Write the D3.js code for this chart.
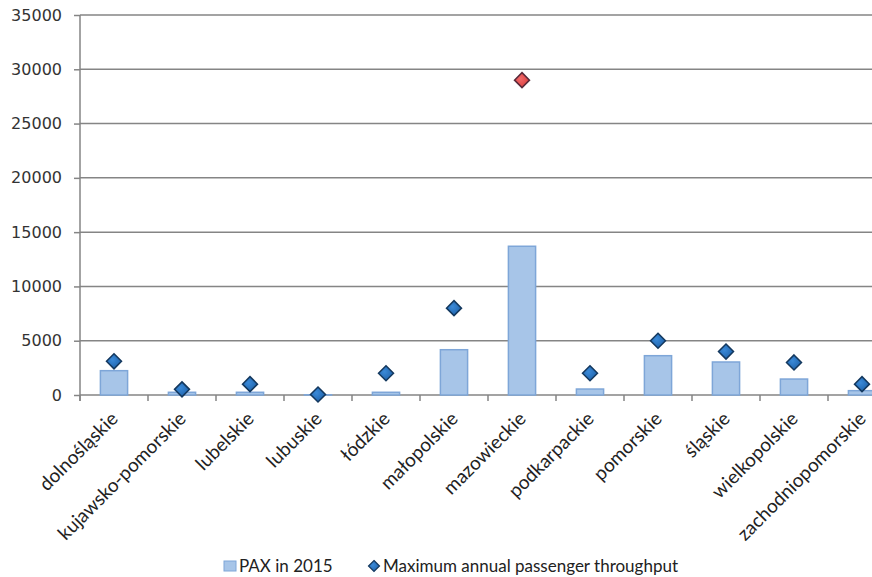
<!DOCTYPE html>
<html>
<head>
<meta charset="utf-8">
<script src="https://cdn.jsdelivr.net/npm/d3@7"></script>
<style>
  body { margin: 0; background: #fff; }
  svg { display: block; }
</style>
</head>
<body>
<div id="chart"></div>
<script>
/**
 * DATA
 * */
const regions = [
  "dolnośląskie", "kujawsko-pomorskie", "lubelskie", "lubuskie", "łódzkie",
  "małopolskie", "mazowieckie", "podkarpackie", "pomorskie", "śląskie",
  "wielkopolskie", "zachodniopomorskie"
];
const pax2015 = [2240, 250, 250, 20, 250, 4170, 13700, 550, 3620, 3040, 1470, 400];
const maxThroughput = [3100, 520, 1000, 50, 2000, 8000, 29000, 2000, 5000, 4000, 3000, 1000];
const yTicks = [0, 5000, 10000, 15000, 20000, 25000, 30000, 35000];
const seriesNames = ["PAX in 2015", "Maximum annual passenger throughput"];

/**
 * CONSTANTS
 * */
const width = 872,
  height = 577,
  margin = { top: 15, left: 80, bottom: 182 },
  plotRight = 896; // plot runs past the right edge, as in the original

const gridColor = "#858585";
const labelFont = "Lato, 'Open Sans', sans-serif";

const svg = d3.select("#chart")
  .append("svg")
  .attr("width", width)
  .attr("height", height);

const x = d3.scaleBand()
  .domain(regions)
  .range([margin.left, plotRight])
  .padding(0);

const y = d3.scaleLinear()
  .domain([0, 35000])
  .range([height - margin.bottom, margin.top]);

// gridlines
svg.append("g")
  .selectAll("line")
  .data(yTicks)
  .join("line")
  .attr("x1", margin.left)
  .attr("x2", plotRight)
  .attr("y1", d => y(d))
  .attr("y2", d => y(d))
  .attr("stroke", gridColor)
  .attr("stroke-width", 1.5);

// y axis
const yAxis = svg.append("g")
  .attr("transform", `translate(${margin.left},0)`)
  .call(d3.axisLeft(y).tickValues(yTicks).tickSize(6).tickPadding(12).tickFormat(d3.format("d")));
yAxis.select(".domain").attr("stroke", gridColor).attr("stroke-width", 1.5)
  .attr("d", `M0,${y(35000)}V${y(0) + 6}`);
yAxis.selectAll(".tick line").attr("stroke", gridColor).attr("stroke-width", 1.5);
yAxis.selectAll(".tick text")
  .attr("fill", "#333")
  .style("font-family", "'DejaVu Sans', Verdana, sans-serif")
  .style("font-size", "16px");

// x axis ticks at band boundaries
const boundaries = regions.map(r => x(r)).concat([plotRight]);
svg.append("g")
  .selectAll("line")
  .data(boundaries)
  .join("line")
  .attr("x1", d => d)
  .attr("x2", d => d)
  .attr("y1", y(0))
  .attr("y2", y(0) + 6)
  .attr("stroke", gridColor)
  .attr("stroke-width", 1.5);

// bars
const barW = x.bandwidth() * 0.4;
svg.append("g")
  .selectAll("rect")
  .data(pax2015)
  .join("rect")
  .attr("x", (d, i) => x(regions[i]) + (x.bandwidth() - barW) / 2)
  .attr("y", d => y(d))
  .attr("width", barW)
  .attr("height", d => y(0) - y(d))
  .attr("fill", "#a7c5e8")
  .attr("stroke", "#7ea6d8")
  .attr("stroke-width", 1.5);

// diamonds
const defs = svg.append("defs");
const gBlue = defs.append("radialGradient").attr("id", "gBlue").attr("cx", "40%").attr("cy", "40%").attr("r", "70%");
gBlue.append("stop").attr("offset", "0%").attr("stop-color", "#3b8ad8");
gBlue.append("stop").attr("offset", "100%").attr("stop-color", "#1b5ea6");
const gRed = defs.append("radialGradient").attr("id", "gRed").attr("cx", "40%").attr("cy", "40%").attr("r", "70%");
gRed.append("stop").attr("offset", "0%").attr("stop-color", "#f26a6a");
gRed.append("stop").attr("offset", "100%").attr("stop-color", "#d83a3a");

const diamond = r => `M0,${-r}L${r},0L0,${r}L${-r},0Z`;
svg.append("g")
  .selectAll("path")
  .data(maxThroughput)
  .join("path")
  .attr("transform", (d, i) => `translate(${x(regions[i]) + x.bandwidth() / 2},${y(d)})`)
  .attr("d", diamond(7.5))
  .attr("fill", d => d === d3.max(maxThroughput) ? "url(#gRed)" : "url(#gBlue)")
  .attr("stroke", d => d === d3.max(maxThroughput) ? "#5a2a3a" : "#14385e")
  .attr("stroke-width", 1.5);

// category labels
svg.append("g")
  .selectAll("text")
  .data(regions)
  .join("text")
  .attr("transform", d => `translate(${x(d) + x.bandwidth() / 2 + 5},${y(0) + 25}) rotate(-45)`)
  .attr("text-anchor", "end")
  .attr("fill", "#222")
  .style("font-family", labelFont)
  .style("font-size", "19px")
  .text(d => d);

// legend
const legend = svg.append("g").attr("transform", "translate(0,566)");
legend.append("rect")
  .attr("x", 224).attr("y", -5).attr("width", 12).attr("height", 10)
  .attr("fill", "#a7c5e8").attr("stroke", "#7ea6d8");
legend.append("text")
  .attr("x", 239).attr("y", 6)
  .attr("fill", "#222")
  .style("font-family", labelFont).style("font-size", "17px")
  .text(seriesNames[0]);
legend.append("path")
  .attr("transform", "translate(374,0)")
  .attr("d", diamond(5.5))
  .attr("fill", "url(#gBlue)").attr("stroke", "#14385e").attr("stroke-width", 1.2);
legend.append("text")
  .attr("x", 383).attr("y", 6)
  .attr("fill", "#222")
  .style("font-family", labelFont).style("font-size", "17px")
  .text(seriesNames[1]);
</script>
</body>
</html>
